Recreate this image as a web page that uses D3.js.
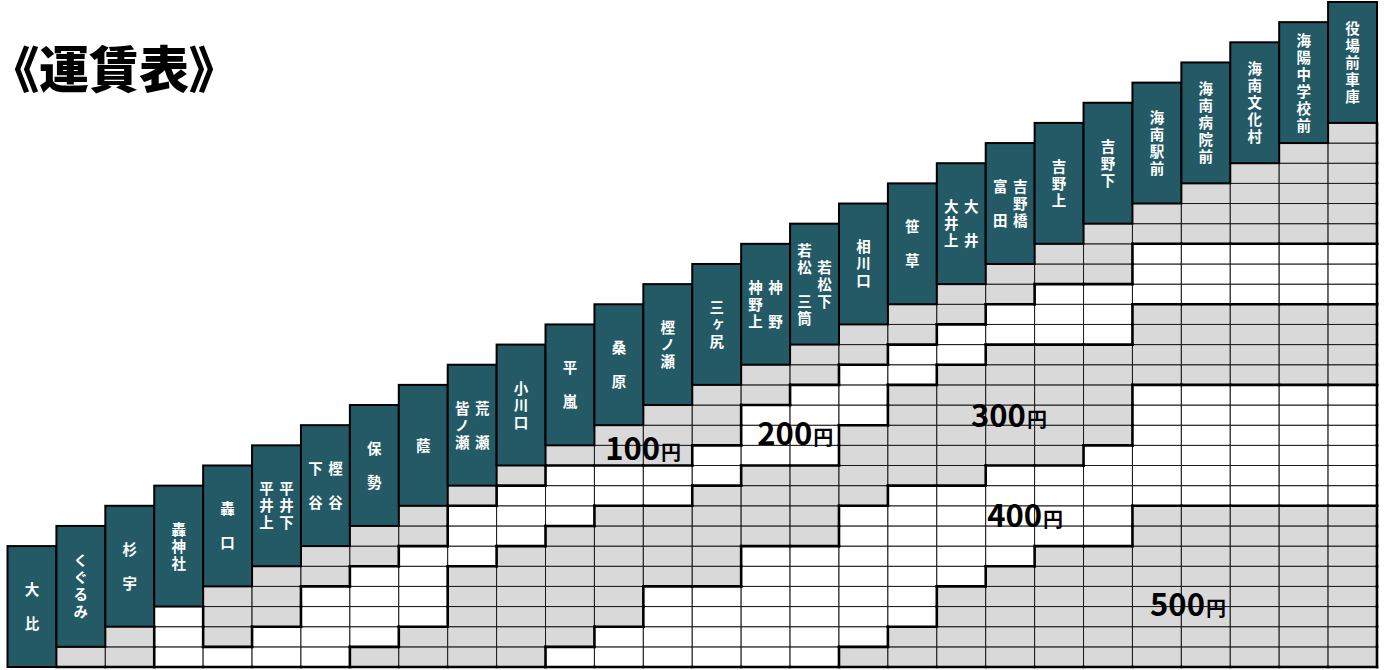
<!DOCTYPE html>
<html>
<head>
<meta charset="utf-8">
<script src="https://cdn.jsdelivr.net/npm/d3@7"></script>
<style>
  body { margin: 0; background: #fff; }
  svg { display: block; }
  .title { font-feature-settings: "palt"; }
  .stop { writing-mode: vertical-rl; }
</style>
</head>
<body>
<svg id="chart"></svg>
<script>
// Stop names, one entry per column. Two strings = two vertical columns in one box (left, right).
// "　" keeps an empty slot so the characters line up like in the printed table.
const stops = [
    ["大　比"], ["くぐるみ"], ["杉　宇"], ["轟神社"], ["轟　口"],
    ["平井上", "平井下"], ["下　谷", "樫　谷"], ["保　勢"], ["蔭"],
    ["皆ノ瀬", "荒　瀬"], ["小川口"], ["平　嵐"], ["桑　原"], ["樫ノ瀬"],
    ["三ヶ尻"], ["神野上", "神　野"], ["若松　三筒", "　若松下"], ["相川口"],
    ["笹　草"], ["大井上", "大　井"], ["富　田", "吉野橋"], ["吉野上"], ["吉野下"],
    ["海南駅前"], ["海南病院前"], ["海南文化村"], ["海陽中学校前"], ["役場前車庫"]
];

// Fare (x100 yen) to each stop from stop 0, 1, 2 ... (one string per destination, starting at stop 1)
const fares = [
    "1",
    "11",
    "222",
    "2111",
    "22111",
    "222211",
    "3222211",
    "33222211",
    "333332221",
    "3333332221",
    "43333332221",
    "443333332211",
    "4444333322111",
    "44443333322111",
    "444444333322211",
    "4444443333222211",
    "54444444333322211",
    "554444444333332211",
    "5555444443333332211",
    "55555444443333332211",
    "555555444433333322211",
    "5555554444433333222111",
    "55555555444444333322211",
    "555555554444443333222111",
    "5555555544444433332221111",
    "55555555444444333322211111",
    "555555554444443333222111111"
];

const fareLabels = [100, 200, 300, 400, 500];
const title = "《運賃表》";

// where the fare captions sit, in column / row units of the grid
const labelAnchor = [[12.22, 10.27], [15.33, 11.02], [19.70, 11.91], [20.03, 6.95], [23.36, 2.53]];

const width = 1386;
const height = 670;
const nCols = stops.length;
const headerRows = 6;

const svg = d3.select("#chart")
    .attr("width", width)
    .attr("height", height);

const x = d3.scaleLinear().domain([0, nCols]).range([7.5, 1377]);
const y = d3.scaleLinear().domain([0, nCols + headerRows - 1]).range([667, 2]);

const grey = "#d9d9d9";
const teal = "#235a66";

function fareAt(col, row) {
    if (col < 1 || col >= nCols || row < 0 || row >= col) return null;
    return +fares[col - 1][row];
}

// all fare cells
const cells = [];
for (let c = 1; c < nCols; c++) {
    for (let r = 0; r < c; r++) {
        cells.push({col: c, row: r, fare: fareAt(c, r)});
    }
}

svg.append("g")
    .selectAll("rect")
    .data(cells)
    .join("rect")
        .attr("x", d => x(d.col))
        .attr("y", d => y(d.row + 1))
        .attr("width", d => x(d.col + 1) - x(d.col))
        .attr("height", d => y(d.row) - y(d.row + 1))
        .attr("fill", d => d.fare % 2 ? grey : "#fff")
        .attr("stroke", "#1a1a1a")
        .attr("stroke-width", 1);

// thick lines where the fare changes
const segs = [];
cells.forEach(d => {
    const c = d.col, r = d.row;
    if (c === nCols - 1 || fareAt(c + 1, r) !== d.fare)
        segs.push([x(c + 1), y(r + 1), x(c + 1), y(r)]);
    if (r + 1 < c && fareAt(c, r + 1) !== d.fare)
        segs.push([x(c), y(r + 1), x(c + 1), y(r + 1)]);
    if (r === 0)
        segs.push([x(c), y(0), x(c + 1), y(0)]);
});

svg.append("g")
    .attr("stroke", "#000")
    .attr("stroke-width", 2.6)
    .attr("stroke-linecap", "square")
    .selectAll("line")
    .data(segs)
    .join("line")
        .attr("x1", d => d[0])
        .attr("y1", d => d[1])
        .attr("x2", d => d[2])
        .attr("y2", d => d[3]);

// header boxes with the stop names
const header = svg.append("g")
    .selectAll("g")
    .data(stops)
    .join("g");

header.append("rect")
    .attr("x", (d, i) => x(i))
    .attr("y", (d, i) => y(i + headerRows))
    .attr("width", (d, i) => x(i + 1) - x(i))
    .attr("height", (d, i) => y(i) - y(i + headerRows))
    .attr("fill", teal)
    .attr("stroke", "#000")
    .attr("stroke-width", 2);

const fs = 14.5;
const step = 17;
header.each(function(names, i) {
    const g = d3.select(this);
    const cx = (x(i) + x(i + 1)) / 2;
    const cy = (y(i) + y(i + headerRows)) / 2;
    const n = d3.max(names, s => s.length);
    const top = cy - (n - 1) * step / 2 - fs / 2;
    names.forEach((s, k) => {
        const tx = names.length === 1 ? cx : cx + (k === 0 ? -10 : 10);
        // one vertical text per line of characters
        g.append("text")
            .attr("class", "stop")
            .attr("x", tx)
            .attr("y", top)
            .attr("font-family", "'Noto Sans CJK JP', sans-serif")
            .attr("font-weight", 700)
            .attr("font-size", fs)
            .attr("letter-spacing", step - fs)
            .attr("fill", "#fff")
            .text(s);
    });
});

// fare captions
const lab = svg.append("g")
    .selectAll("text")
    .data(fareLabels)
    .join("text")
        .attr("x", (d, i) => x(labelAnchor[i][0]))
        .attr("y", (d, i) => y(labelAnchor[i][1]))
        .attr("font-family", "'Noto Sans CJK JP', sans-serif")
        .attr("font-weight", 700)
        .attr("fill", "#000");

lab.append("tspan")
    .attr("font-size", 31)
    .text(d => d);
lab.append("tspan")
    .attr("font-size", 20)
    .attr("dx", 1)
    .text("円");

// title
svg.append("text")
    .attr("class", "title")
    .attr("x", 14)
    .attr("y", 88)
    .attr("font-family", "'Noto Sans CJK JP', sans-serif")
    .attr("font-weight", 900)
    .attr("font-size", 50)
    .attr("fill", "#000")
    .text(title);
</script>
</body>
</html>
